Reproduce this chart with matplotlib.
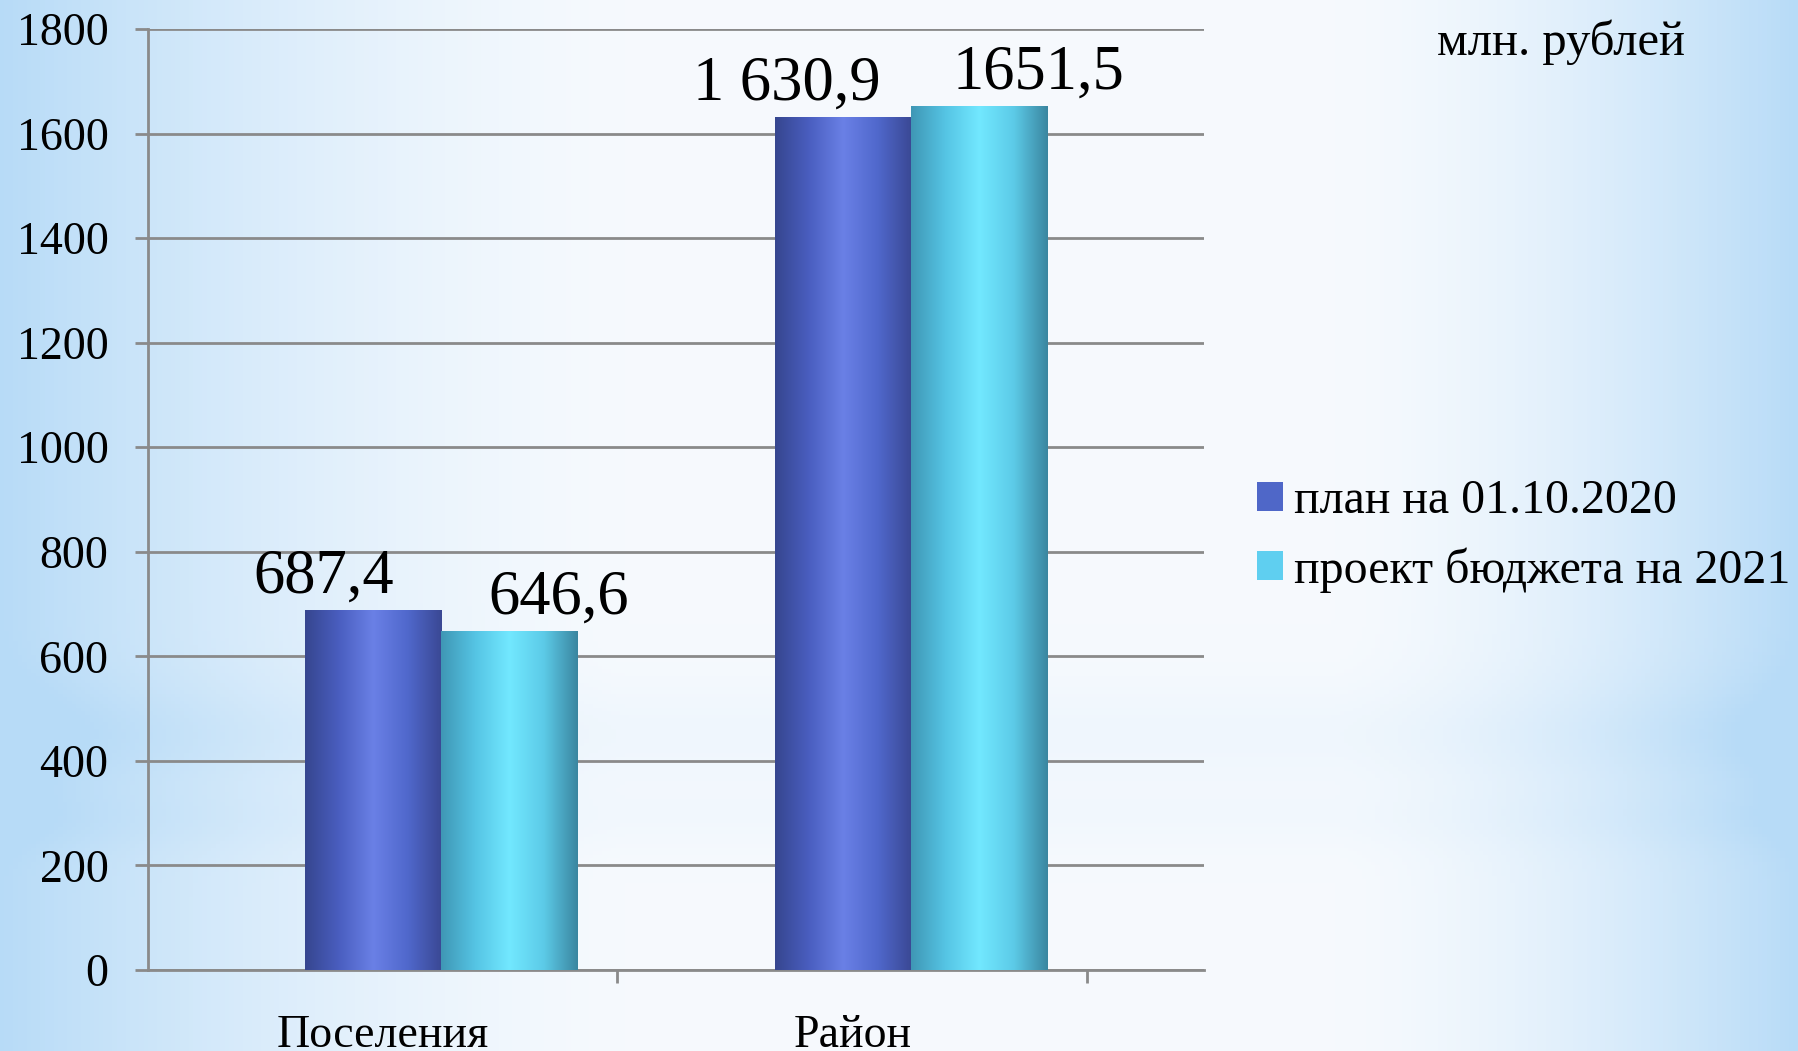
import numpy as np
import matplotlib.pyplot as plt
from matplotlib.colors import LinearSegmentedColormap

categories = ['Поселения', 'Район']
series_names = ['план на 01.10.2020', 'проект бюджета на 2021']
plan_2020 = [687.4, 1630.9]
project_2021 = [646.6, 1651.5]
value_labels = [['687,4', '1 630,9'], ['646,6', '1651,5']]
y_ticks = [0, 200, 400, 600, 800, 1000, 1200, 1400, 1600, 1800]

plt.rcParams['font.family'] = ['Liberation Serif', 'DejaVu Serif']

fig = plt.figure(figsize=(17.98, 10.51), dpi=100)

# background: blue on the edges, almost white in the middle
bg = fig.add_axes([0, 0, 1, 1], zorder=-10)
xx = np.linspace(0, 1, 400)
yy = np.linspace(0, 1, 300)
X, Y = np.meshgrid(xx, yy)
edge = np.clip(1 - X / 0.35, 0, 1) ** 1.5 + np.clip((X - 0.74) / 0.26, 0, 1) ** 1.6
band = 0.22 * np.exp(-((Y - 0.70) / 0.05) ** 2) + 0.12 * np.exp(-((Y - 0.78) / 0.03) ** 2)
t = np.clip(edge + band * (0.5 + 0.5 * edge), 0, 1)
light = np.array([0.965, 0.980, 0.995])
blue = np.array([0.72, 0.86, 0.97])
img = light[None, None, :] * (1 - t[..., None]) + blue[None, None, :] * t[..., None]
bg.imshow(img, aspect='auto', extent=[0, 1, 0, 1], origin='upper')
bg.axis('off')

ax = fig.add_axes([0.0823, 0.0771, 0.5873, 0.8953])
ax.patch.set_alpha(0)

x = np.arange(len(categories))
w = 0.29
b1 = ax.bar(x - w / 2, plan_2020, w, color='#4f67c8', label=series_names[0], zorder=3)
b2 = ax.bar(x + w / 2, project_2021, w, color='#5fcff0', label=series_names[1], zorder=3)

cm_blue = LinearSegmentedColormap.from_list('b', ['#36468f', '#4a5ec0', '#6a80e6', '#5068cc', '#3a4894'])
cm_cyan = LinearSegmentedColormap.from_list('c', ['#3f97b5', '#55c4e4', '#72e8ff', '#5ccbe8', '#3a86a0'])
grad = np.linspace(0, 1, 256)[None, :]
for bars, cm in [(b1, cm_blue), (b2, cm_cyan)]:
    for p in bars:
        x0, w0, h0 = p.get_x(), p.get_width(), p.get_height()
        ax.imshow(grad, cmap=cm, aspect='auto', extent=[x0, x0 + w0, 0, h0], zorder=4)

# label offsets in the original differ a bit per bar
label_dx = [[-0.105, -0.12], [0.105, 0.125]]
for bars, labs, dxs in zip([b1, b2], value_labels, label_dx):
    for p, lab, dx in zip(bars, labs, dxs):
        ax.text(p.get_x() + p.get_width() / 2 + dx, p.get_height() + 8, lab,
                ha='center', va='bottom', fontsize=45, zorder=5)

ax.set_xlim(-0.623, 1.623)
ax.set_ylim(0, 1800)
ax.set_yticks(y_ticks)
ax.set_yticklabels([str(v) for v in y_ticks])
ax.yaxis.grid(True, color='#8a8a8a', linewidth=2, zorder=0)
ax.tick_params(axis='y', length=9.5, width=2, color='#8a8a8a', labelsize=33, pad=19)

ax.set_xticks(x - 0.123)
ax.set_xticklabels(categories)
ax.set_xticks(x + 0.375, minor=True)
ax.tick_params(axis='x', which='major', length=0, labelsize=33, pad=32)
ax.tick_params(axis='x', which='minor', length=9.5, width=2, color='#8a8a8a')

for s in ['top', 'right']:
    ax.spines[s].set_visible(False)
for s in ['left', 'bottom']:
    ax.spines[s].set_color('#8a8a8a')
    ax.spines[s].set_linewidth(2)

fig.text(1561 / 1798, 1 - 42 / 1051, 'млн. рублей', ha='center', va='center', fontsize=35)

ax.legend(loc='center left', bbox_to_anchor=(1214 / 1798, 1 - 536 / 1051),
          bbox_transform=fig.transFigure, frameon=False, fontsize=34.5,
          handlelength=0.55, handleheight=0.55, handletextpad=0.22, labelspacing=0.5)

fig.savefig('out.png', dpi=100)
